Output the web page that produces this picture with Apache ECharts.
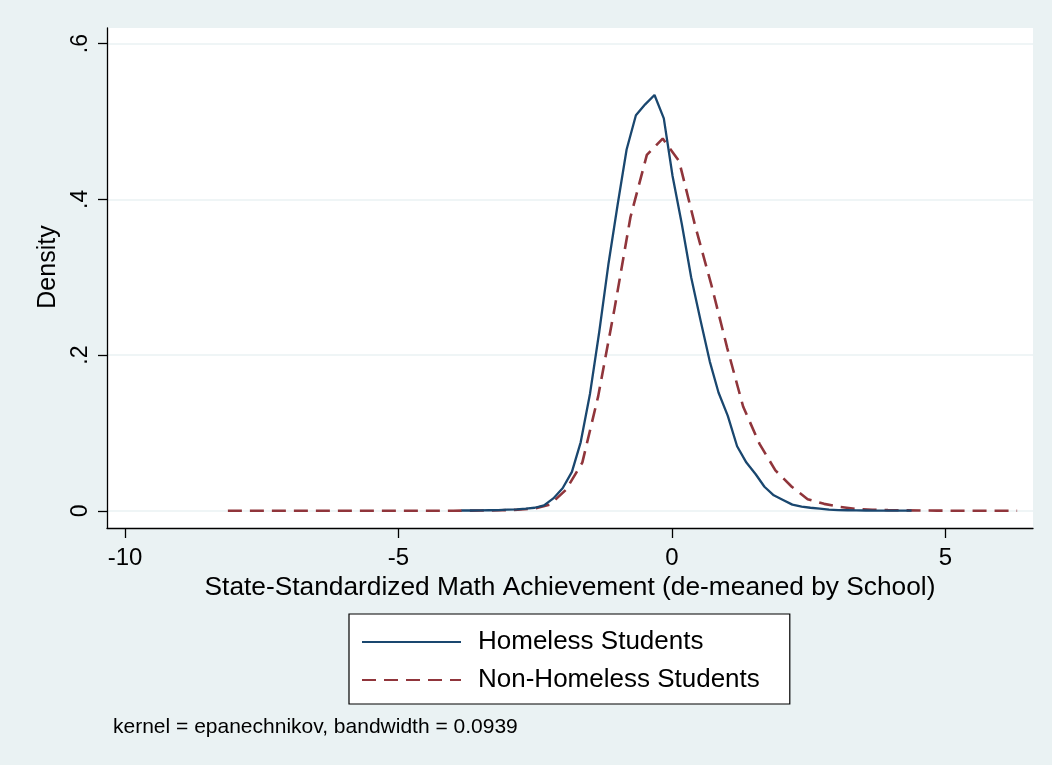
<!DOCTYPE html>
<html><head><meta charset="utf-8">
<script src="https://cdn.jsdelivr.net/npm/echarts@6/dist/echarts.min.js"></script>
<style>html,body{margin:0;padding:0;background:#eaf2f3}#c{width:1052px;height:765px}</style>
</head><body><div id="c"></div><script>
const seriesNames = ['Homeless Students', 'Non-Homeless Students'];
const homelessX = [-3.85,-3.68,-3.51,-3.35,-3.18,-3.01,-2.84,-2.67,-2.51,-2.34,-2.17,-2.00,-1.83,-1.67,-1.50,-1.33,-1.16,-0.99,-0.83,-0.66,-0.49,-0.32,-0.15,0.01,0.18,0.35,0.52,0.69,0.85,1.02,1.19,1.36,1.53,1.69,1.86,2.03,2.20,2.37,2.53,2.70,2.87,3.04,3.21,3.37,3.54,3.71,3.88,4.05,4.22,4.38];
const homelessY = [0.0005,0.0005,0.0006,0.0008,0.001,0.0015,0.002,0.003,0.004,0.007,0.016,0.029,0.050,0.088,0.150,0.230,0.318,0.395,0.464,0.508,0.522,0.534,0.504,0.430,0.368,0.300,0.245,0.192,0.152,0.122,0.083,0.062,0.047,0.031,0.020,0.014,0.008,0.0055,0.004,0.003,0.0015,0.001,0.0008,0.0006,0.0005,0.0004,0.0004,0.0003,0.0003,0.0003];
const nonHomelessX = [-8.12,-7.83,-7.53,-7.24,-6.94,-6.65,-6.35,-6.06,-5.76,-5.47,-5.18,-4.88,-4.59,-4.29,-4.00,-3.70,-3.41,-3.11,-2.82,-2.52,-2.23,-1.94,-1.64,-1.35,-1.05,-0.76,-0.46,-0.17,0.13,0.42,0.72,1.01,1.30,1.60,1.89,2.19,2.48,2.78,3.07,3.37,3.66,3.95,4.25,4.54,4.84,5.13,5.43,5.72,6.02,6.31];
const nonHomelessY = [0.0001,0.0001,0.0001,0.0001,0.0001,0.0001,0.0001,0.0001,0.0001,0.0001,0.0001,0.0001,0.0001,0.0001,0.0002,0.0003,0.0005,0.0008,0.0015,0.003,0.008,0.027,0.062,0.147,0.260,0.377,0.457,0.478,0.449,0.367,0.290,0.209,0.134,0.086,0.052,0.031,0.015,0.009,0.005,0.0025,0.0015,0.001,0.0007,0.0005,0.0003,0.0002,0.0002,0.0001,0.0001,0.0001];
const xTicks = [-10, -5, 0, 5];
const yTicks = [0, 0.2, 0.4, 0.6];
const yTickLabels = ['0', '.2', '.4', '.6'];
const xTitle = 'State-Standardized Math Achievement (de-meaned by School)';
const yTitle = 'Density';
const noteText = 'kernel = epanechnikov, bandwidth = 0.0939';

const FONT = '"Liberation Sans", Arial, Helvetica, sans-serif';
const chart = echarts.init(document.getElementById('c'), null, {renderer: 'canvas'});
chart.setOption({
  backgroundColor: '#eaf2f3',
  animation: false,
  textStyle: {fontFamily: FONT, color: '#000'},
  grid: {left: 107, right: 19, top: 28, bottom: 237, show: true, backgroundColor: '#ffffff', borderWidth: 0, containLabel: false},
  xAxis: {
    type: 'value', min: -10.33, max: 6.6,
    axisLine: {show: true, onZero: false, lineStyle: {color: '#000', width: 1.3}},
    axisTick: {show: true, length: 10, customValues: xTicks, lineStyle: {color: '#000', width: 1.3}},
    axisLabel: {customValues: xTicks, margin: 18, fontSize: 24, color: '#000', fontFamily: FONT,
      formatter: v => String(v)},
    splitLine: {show: false},
    name: xTitle, nameLocation: 'middle', nameGap: 44,
    nameTextStyle: {fontSize: 26.3, color: '#000', fontFamily: FONT}
  },
  yAxis: {
    type: 'value', min: -0.022, max: 0.62,
    axisLine: {show: true, onZero: false, lineStyle: {color: '#000', width: 1.3}},
    axisTick: {show: true, length: 9, customValues: yTicks, lineStyle: {color: '#000', width: 1.3}},
    axisLabel: {customValues: yTicks, rotate: 90, margin: 15, fontSize: 23, color: '#000', fontFamily: FONT,
      formatter: v => yTickLabels[yTicks.findIndex(t => Math.abs(t - v) < 1e-6)] ?? ''},
    splitLine: {show: true, lineStyle: {color: '#eaf2f3', width: 1.6}}
  },
  legend: {
    orient: 'vertical', left: 349, top: 614,
    padding: [15, 30, 11, 12], itemGap: 12, itemWidth: 99, itemHeight: 25,
    backgroundColor: '#ffffff', borderColor: '#000', borderWidth: 1.2, borderRadius: 0,
    itemStyle: {opacity: 0},
    textStyle: {fontSize: 26, color: '#000', fontFamily: FONT, padding: [0, 0, 0, 12]},
    data: seriesNames
  },
  graphic: [
    {type: 'text', left: 113, top: 717, style: {text: noteText, fontSize: 21, fill: '#000', fontFamily: FONT}},
    {type: 'text', x: 48, y: 267, rotation: Math.PI / 2,
      style: {text: yTitle, fontSize: 25, fill: '#000', fontFamily: FONT, textAlign: 'center', textVerticalAlign: 'middle'}}
  ],
  series: [
    {name: seriesNames[0], type: 'line', symbol: 'none', smooth: false, z: 3,
      data: homelessX.map((x, i) => [x, homelessY[i]]),
      lineStyle: {color: '#1a476f', width: 2.3}, itemStyle: {color: '#1a476f'}},
    {name: seriesNames[1], type: 'line', symbol: 'none', smooth: false, z: 2,
      data: nonHomelessX.map((x, i) => [x, nonHomelessY[i]]),
      lineStyle: {color: '#90353b', width: 2.6, type: [14, 8]}, itemStyle: {color: '#90353b'}}
  ]
});
</script></body></html>
